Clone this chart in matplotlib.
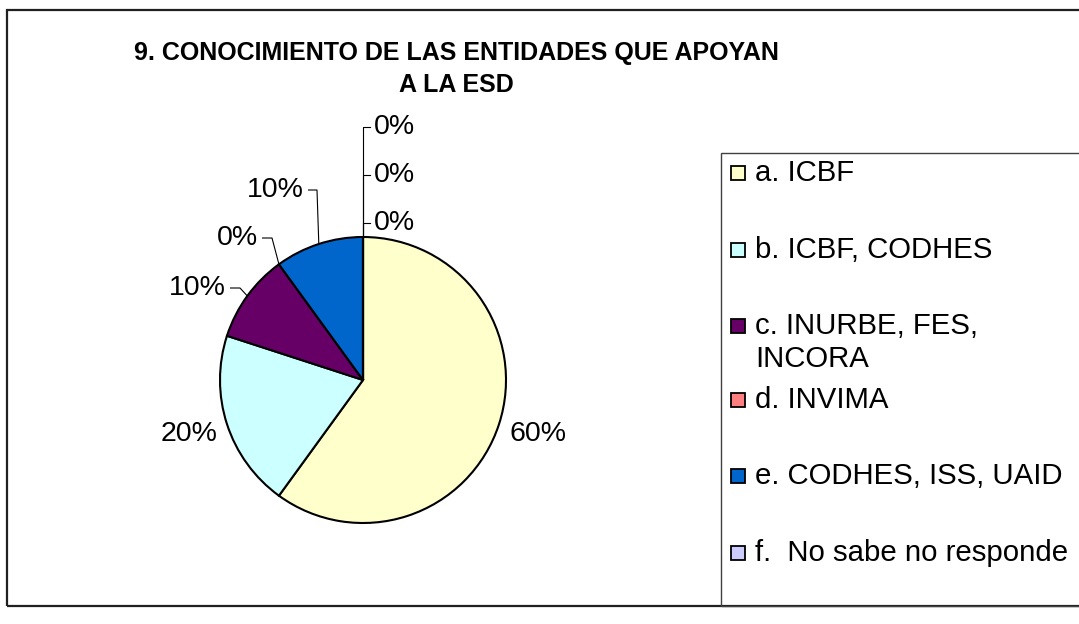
import matplotlib
matplotlib.use("Agg")
import matplotlib.pyplot as plt
from matplotlib.patches import Rectangle
import numpy as np

# ---- data ----
title = "9. CONOCIMIENTO DE LAS ENTIDADES QUE APOYAN\nA LA ESD"
categories = ["a. ICBF", "b. ICBF, CODHES", "c. INURBE, FES,\nINCORA", "d. INVIMA",
              "e. CODHES, ISS, UAID", "f.  No sabe no responde"]
# slice values in percent (three trailing zero slices at the top; last two are unlabelled in the legend)
values = [60, 20, 10, 0, 10, 0, 0, 0]
colors = ["#FFFFCC", "#CCFFFF", "#660066", "#FF8080", "#0066CC", "#CCCCFF", "#CCCCFF", "#CCCCFF"]

W, H = 1079, 624
fig = plt.figure(figsize=(W / 100, H / 100), dpi=100)
ax = fig.add_axes([0, 0, 1, 1])
ax.set_xlim(0, W)
ax.set_ylim(0, H)
ax.set_aspect("equal")
ax.axis("off")

def P(x, y):
    return x, H - y

FONT = ["Liberation Sans", "DejaVu Sans"]

# outer chart border
ax.add_patch(Rectangle(P(7, 606), 1100, 596, fill=False, edgecolor="#202020",
                       linewidth=1.6, clip_on=False))

# title
fig.text(456 / W, 1 - 69 / H, title, ha="center", va="center", fontsize=18,
         fontweight="bold", family=["Liberation Sans Narrow", "Liberation Sans", "DejaVu Sans"],
         linespacing=1.45)

# pie
cx, cy = P(363, 380)
R = 143
wedges, _ = ax.pie(values, colors=colors, startangle=90, counterclock=False,
                   center=(cx, cy), radius=R, normalize=True,
                   wedgeprops=dict(edgecolor="black", linewidth=1.5))
ax.set_xlim(0, W)
ax.set_ylim(0, H)
ax.set_aspect("equal")

labels = [f"{v}%" for v in values]

def edge_point(w):
    a = np.deg2rad((w.theta1 + w.theta2) / 2)
    return cx + R * np.cos(a), cy + R * np.sin(a)

fs = 20.5
# label layout (pixel positions of text centres)
label_pos = {0: (538, 434), 1: (189, 434), 2: (197, 288), 3: (237, 238), 4: (275, 190),
             5: (394, 223), 6: (394, 175), 7: (394, 127)}
for i, lab in enumerate(labels):
    x, y = P(*label_pos[i])
    ax.text(x, y, lab, ha="center", va="center", fontsize=fs, family=FONT, color="black")

lw_lead = 0.8
# leaders for left labels: horizontal stub then to pie edge
for i, (sx0, sx1, sy) in {2: (230, 240, 288), 3: (262, 272, 238), 4: (308, 317, 190)}.items():
    ex, ey = edge_point(wedges[i])
    x0, y0 = P(sx0, sy)
    x1, y1 = P(sx1, sy)
    ax.plot([x0, x1, ex], [y0, y1, ey], color="black", lw=lw_lead, solid_capstyle="butt")
# leaders for top zero labels
for i in (5, 6, 7):
    ex, ey = edge_point(wedges[i])
    _, ly = P(0, label_pos[i][1])
    ax.plot([ex, ex, ex + 7], [ey, ly, ly], color="black", lw=lw_lead)

# legend
ax.add_patch(Rectangle(P(721, 606), 400, 453, fill=False, edgecolor="#404040",
                       linewidth=1.0, clip_on=False))
entry_y = [173, 250, 326, 400, 476, 553]
line_h = 33
for cat, col, ey in zip(categories, colors, entry_y):
    px, py = P(731, ey + 7)
    ax.add_patch(Rectangle((px, py), 14, 14, facecolor=col, edgecolor="black", linewidth=1.3))
    for k, line in enumerate(cat.split("\n")):
        tx, ty = P(755, ey + k * line_h)
        ax.text(tx, ty, line, ha="left", va="center", fontsize=21.2, family=FONT, color="black")

fig.savefig("out.png", dpi=100, facecolor="white")
